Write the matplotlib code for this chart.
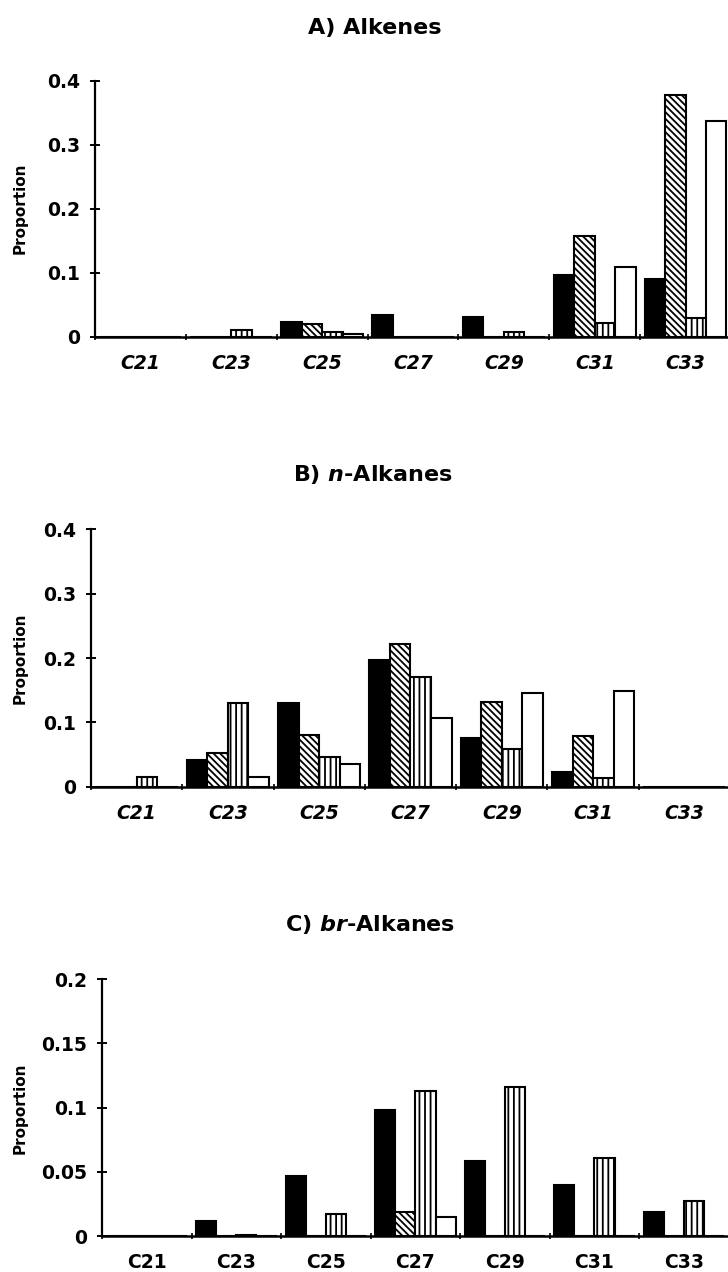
import matplotlib
matplotlib.use("Agg")
import matplotlib.pyplot as plt
import numpy as np

# Categorias (comprimento da cadeia)
categorias = ["C21", "C23", "C25", "C27", "C29", "C31", "C33"]

# A) Alcenos
alcenosPreto = [0.0, 0.0, 0.023, 0.034, 0.031, 0.096, 0.090]
alcenosDiagonal = [0.0, 0.0, 0.020, 0.0, 0.0, 0.157, 0.378]
alcenosVertical = [0.0, 0.011, 0.008, 0.0, 0.007, 0.022, 0.029]
alcenosBranco = [0.0, 0.0, 0.005, 0.0, 0.0, 0.109, 0.337]

# B) n-Alcanos
nAlcanosPreto = [0.0, 0.042, 0.130, 0.197, 0.076, 0.023, 0.0]
nAlcanosDiagonal = [0.0, 0.053, 0.081, 0.222, 0.132, 0.079, 0.0]
nAlcanosVertical = [0.016, 0.130, 0.047, 0.171, 0.059, 0.014, 0.0]
nAlcanosBranco = [0.0, 0.016, 0.036, 0.107, 0.146, 0.149, 0.0]

# C) br-Alcanos
brAlcanosPreto = [0.0, 0.012, 0.047, 0.098, 0.058, 0.040, 0.019]
brAlcanosDiagonal = [0.0, 0.0, 0.0, 0.019, 0.0, 0.0, 0.0]
brAlcanosVertical = [0.0, 0.001, 0.017, 0.113, 0.116, 0.061, 0.027]
brAlcanosBranco = [0.0, 0.0, 0.0, 0.015, 0.0, 0.0, 0.0]

ticksAB = [0, 0.1, 0.2, 0.3, 0.4]
rotulosAB = ["0", "0.1", "0.2", "0.3", "0.4"]
ticksC = [0, 0.05, 0.1, 0.15, 0.2]
rotulosC = ["0", "0.05", "0.1", "0.15", "0.2"]

plt.rcParams['font.family'] = ['DejaVu Sans']
plt.rcParams['font.weight'] = 'bold'
plt.rcParams['hatch.linewidth'] = 1.3


def desenhaPainel(fig, ret, series, ticks, rotulos, italico):
    ax = fig.add_axes(ret)
    x = np.arange(len(categorias))
    largura = 0.225
    estilos = [
        dict(color="black", edgecolor="black"),
        dict(color="white", edgecolor="black", hatch="\\\\\\\\\\"),
        dict(color="white", edgecolor="black", hatch="|||"),
        dict(color="white", edgecolor="black"),
    ]
    for i, (valores, estilo) in enumerate(zip(series, estilos)):
        ax.bar(x + (i - 1.5) * largura, valores, largura, linewidth=1.5, **estilo)

    ax.set_xlim(-0.5, len(categorias) - 0.5)
    ax.set_ylim(0, ticks[-1])
    ax.set_yticks(ticks)
    ax.set_yticklabels(rotulos, fontsize=13.5, fontweight="bold")

    # Ticks nas divisões dos grupos, rótulos no centro
    ax.set_xticks(np.arange(len(categorias) + 1) - 0.5)
    ax.set_xticklabels([])
    ax.set_xticks(x, minor=True)
    ax.set_xticklabels(categorias, minor=True, fontsize=13.5, fontweight="bold",
                       style="italic" if italico else "normal")
    ax.tick_params(axis="x", which="minor", length=0, pad=12)
    ax.tick_params(axis="x", which="major", direction="inout", length=5, width=1.2)
    ax.tick_params(axis="y", direction="inout", length=7, width=1.4, pad=7)

    ax.spines["top"].set_visible(False)
    ax.spines["right"].set_visible(False)
    ax.spines["left"].set_linewidth(1.6)
    ax.spines["bottom"].set_linewidth(1.8)
    return ax


fig = plt.figure(figsize=(7.28, 12.72), dpi=100)

desenhaPainel(fig, [0.1305, 0.7351, 0.8736, 0.2013],
              [alcenosPreto, alcenosDiagonal, alcenosVertical, alcenosBranco],
              ticksAB, rotulosAB, True)
desenhaPainel(fig, [0.125, 0.3813, 0.8777, 0.2028],
              [nAlcanosPreto, nAlcanosDiagonal, nAlcanosVertical, nAlcanosBranco],
              ticksAB, rotulosAB, True)
desenhaPainel(fig, [0.1401, 0.0283, 0.861, 0.202],
              [brAlcanosPreto, brAlcanosDiagonal, brAlcanosVertical, brAlcanosBranco],
              ticksC, rotulosC, False)

# Títulos
fig.text(0.515, 0.978, "A) Alkenes", ha="center", va="center", fontsize=16, fontweight="bold")
fig.text(0.512, 0.6266, r"B) $\bf{\it{n}}$-Alkanes", ha="center", va="center", fontsize=16, fontweight="bold")
fig.text(0.508, 0.2728, r"C) $\bf{\it{br}}$-Alkanes", ha="center", va="center", fontsize=16, fontweight="bold")

# Rótulos do eixo y
for yCentro in [208, 658, 1108]:
    fig.text(0.027, 1 - yCentro / 1272, "Proportion", rotation=90, ha="center", va="center",
             fontsize=11, fontweight="bold")

fig.savefig("out.png", dpi=100)
plt.close(fig)
